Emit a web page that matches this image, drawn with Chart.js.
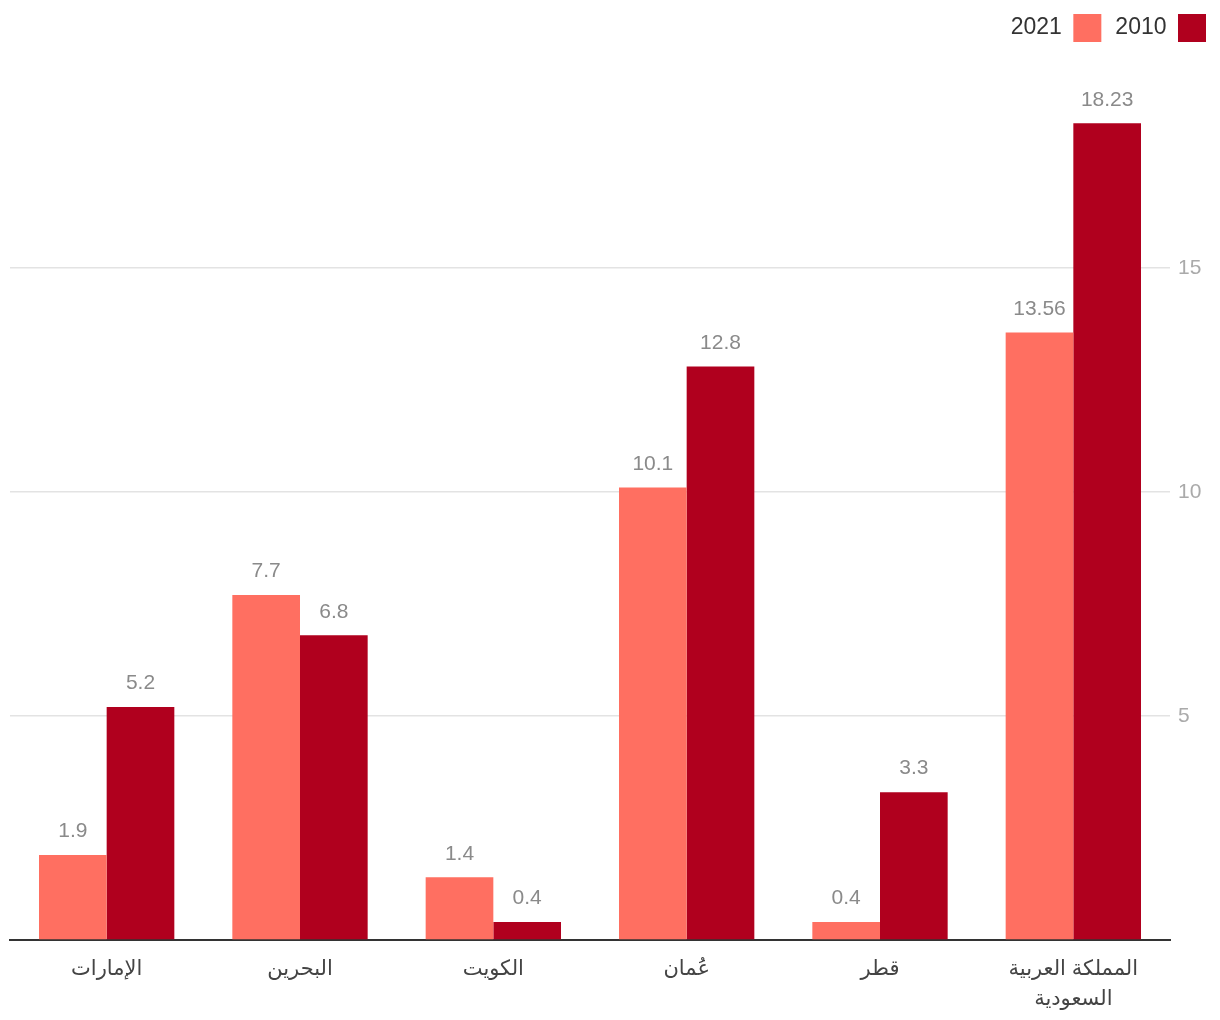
<!DOCTYPE html>
<html lang="ar">
<head>
<meta charset="utf-8">
<script src="https://cdn.jsdelivr.net/npm/chart.js@4"></script>
<style>
  html, body { margin: 0; padding: 0; background: #fff; }
  #wrap { width: 1220px; height: 1020px; position: relative; }
</style>
</head>
<body>
<div id="wrap"><canvas id="c"></canvas></div>
<script>
const categories = ['الإمارات', 'البحرين', 'الكويت', 'عُمان', 'قطر', ['المملكة العربية', 'السعودية']];
const seriesNames = ['2021', '2010'];
const values2021 = [1.9, 7.7, 1.4, 10.1, 0.4, 13.56];
const values2010 = [5.2, 6.8, 0.4, 12.8, 3.3, 18.23];
const yTickLabels = [5, 10, 15];

const FONT = '"Liberation Sans", "Noto Sans", "DejaVu Sans", sans-serif';

const valueLabels = {
  id: 'valueLabels',
  afterDatasetsDraw(chart) {
    const ctx = chart.ctx;
    ctx.save();
    ctx.font = '21px ' + FONT;
    ctx.fillStyle = '#8a8a8a';
    ctx.textAlign = 'center';
    ctx.textBaseline = 'bottom';
    chart.data.datasets.forEach((ds, i) => {
      const meta = chart.getDatasetMeta(i);
      meta.data.forEach((el, j) => {
        ctx.fillText(String(ds.data[j]), el.x, el.y - 13);
      });
    });
    ctx.restore();
  }
};

const legendHeight = {
  id: 'legendHeight',
  beforeInit(chart) {
    const orig = chart.legend.fit;
    chart.legend.fit = function () {
      orig.call(this);
      this.height = 44;
    };
  }
};

new Chart(document.getElementById('c'), {
  type: 'bar',
  data: {
    labels: categories,
    datasets: [
      { label: seriesNames[0], data: values2021, backgroundColor: '#FF6F61' },
      { label: seriesNames[1], data: values2010, backgroundColor: '#B0001E' }
    ]
  },
  options: {
    responsive: true,
    maintainAspectRatio: false,
    animation: false,
    devicePixelRatio: 1,
    layout: { padding: { left: 10, right: 0, top: 0, bottom: 0 } },
    datasets: { bar: { categoryPercentage: 0.7, barPercentage: 1.0 } },
    plugins: {
      legend: {
        position: 'top',
        align: 'start',
        rtl: true,
        reverse: true,
        labels: {
          boxWidth: 28,
          boxHeight: 28,
          padding: 14,
          color: '#333',
          font: { family: FONT, size: 23 }
        }
      },
      tooltip: { enabled: false }
    },
    scales: {
      x: {
        grid: { display: false, drawTicks: false },
        border: { display: true, color: '#333', width: 2 },
        ticks: {
          color: '#444',
          padding: 14,
          font: { family: FONT, size: 21, lineHeight: 1.45 }
        },
        afterFit: (scale) => { scale.height = 80; }
      },
      y: {
        position: 'right',
        min: 0,
        max: 20,
        grid: {
          drawTicks: false,
          color: (c) => (yTickLabels.includes(c.tick.value) ? '#e3e3e3' : 'rgba(0,0,0,0)'),
          lineWidth: 1.5
        },
        border: { display: false },
        ticks: {
          stepSize: 5,
          padding: 8,
          color: '#aaaaaa',
          font: { family: FONT, size: 21 },
          callback: (v) => (yTickLabels.includes(v) ? String(v) : '')
        },
        afterFit: (scale) => { scale.width = 50; }
      }
    }
  },
  plugins: [valueLabels, legendHeight]
});
</script>
</body>
</html>
